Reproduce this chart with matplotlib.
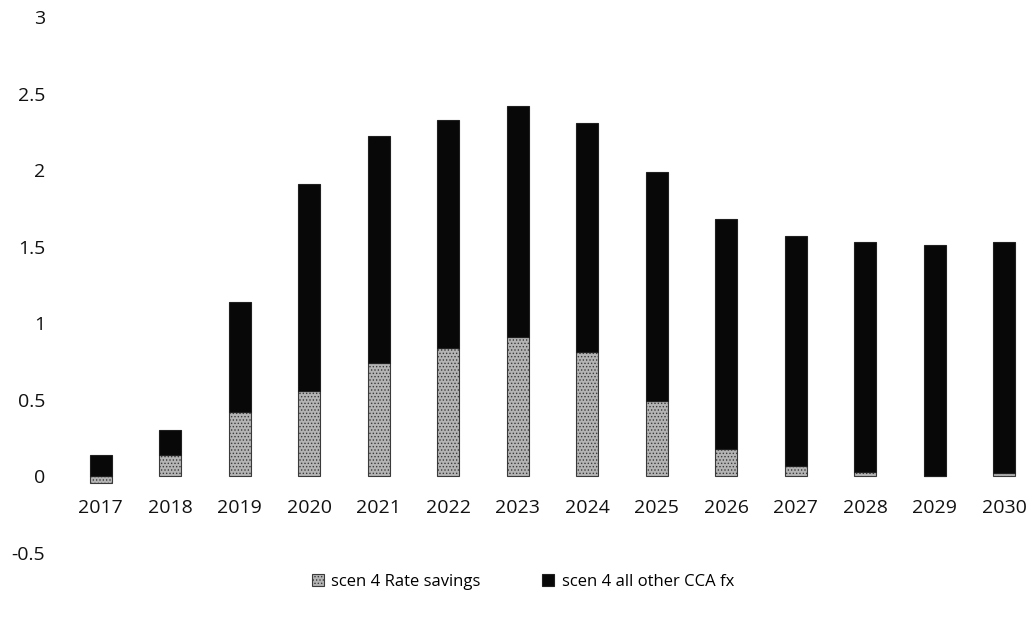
import matplotlib
matplotlib.use("Agg")
import matplotlib.pyplot as plt
import numpy as np

plt.rcParams['font.family'] = ['Open Sans', 'DejaVu Sans']
plt.rcParams['hatch.linewidth'] = 0.6

years = ['2017', '2018', '2019', '2020', '2021', '2022', '2023',
         '2024', '2025', '2026', '2027', '2028', '2029', '2030']
# scen 4 Rate savings
rate_savings = [-0.045, 0.14, 0.42, 0.56, 0.74, 0.84, 0.91,
                0.81, 0.49, 0.18, 0.07, 0.03, 0.005, 0.02]
# scen 4 all other CCA fx
other_cca = [0.14, 0.16, 0.72, 1.35, 1.48, 1.49, 1.51,
             1.50, 1.50, 1.50, 1.50, 1.50, 1.505, 1.51]

x = np.arange(len(years))
width = 0.32

fig = plt.figure(figsize=(10.33, 6.18), dpi=100)
ax = fig.add_axes([66 / 1033, 1 - 553 / 618, 973 / 1033, 536 / 618])

# positive rate savings sit under the other bar, negative ones hang below zero
bottoms = [max(r, 0) for r in rate_savings]
b1 = ax.bar(x, rate_savings, width, color='#b4b4b4', edgecolor='#3a3a3a',
            hatch='.....', linewidth=0.8, label='scen 4 Rate savings')
b2 = ax.bar(x, other_cca, width, bottom=bottoms, color='#080808',
            edgecolor='#202020', linewidth=0.8, label='scen 4 all other CCA fx')

ax.set_xlim(-0.5, len(years) - 0.5)
ax.set_ylim(-0.5, 3)
ax.set_yticks([-0.5, 0, 0.5, 1, 1.5, 2, 2.5, 3])
ax.set_yticklabels(['-0.5', '0', '0.5', '1', '1.5', '2', '2.5', '3'])
ax.set_xticks(x)
ax.set_xticklabels(years)

for s in ['top', 'right', 'left']:
    ax.spines[s].set_visible(False)
ax.spines['bottom'].set_position(('data', 0))
ax.spines['bottom'].set_visible(False)
ax.tick_params(axis='x', length=0, pad=16, labelsize=14, colors='#111111')
ax.tick_params(axis='y', length=0, pad=15, labelsize=14, colors='#111111')

fig.legend(handles=[b1, b2], loc='center', bbox_to_anchor=(523 / 1033, 1 - 582 / 618),
           ncol=2, frameon=False, fontsize=12, handlelength=0.7, handleheight=0.7,
           handletextpad=0.45, columnspacing=3.7)

fig.savefig('out.png', dpi=100)
